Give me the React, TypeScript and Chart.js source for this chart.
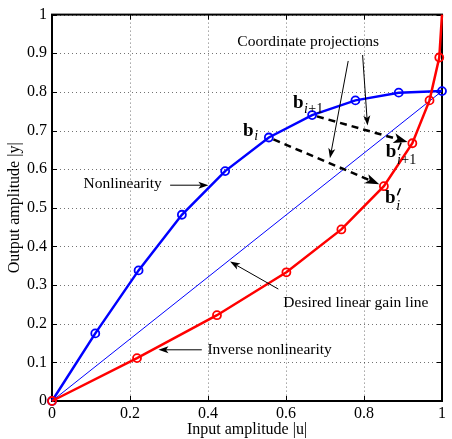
import React, { useEffect, useRef } from 'react';
import { Chart, registerables } from 'chart.js';

Chart.register(...registerables);

// ---- data ----
const nonlinX = [0, 0.111, 0.222, 0.333, 0.444, 0.556, 0.667, 0.778, 0.889, 1.0];
const nonlinY = [0, 0.175, 0.338, 0.482, 0.595, 0.682, 0.74, 0.778, 0.798, 0.802];
const inverseX = [0, 0.218, 0.423, 0.601, 0.742, 0.851, 0.924, 0.968, 0.993, 1.0];
const inverseY = [0, 0.111, 0.222, 0.333, 0.444, 0.556, 0.667, 0.778, 0.889, 1.0];
const gainLineX = [0, 1];
const gainLineY = [0, 0.802];
const xTicks = [0, 0.2, 0.4, 0.6, 0.8, 1];
const yTicks = [0, 0.1, 0.2, 0.3, 0.4, 0.5, 0.6, 0.7, 0.8, 0.9, 1];
const projectionIndices = [5, 6];

const xTitle = 'Input amplitude |u|';
const yTitle = 'Output amplitude |y|';

// annotations (data coordinates)
const textNotes = [
  { text: 'Coordinate projections', x: 0.4753, y: 0.9296, align: 'left' },
  { text: 'Nonlinearity', x: 0.2817, y: 0.5624, align: 'right' },
  { text: 'Desired linear gain line', x: 0.5931, y: 0.2531, align: 'left' },
  { text: 'Inverse nonlinearity', x: 0.3985, y: 0.1327, align: 'left' },
];
const pointerArrows = [
  { from: [0.7595, 0.88], to: [0.7127, 0.628] },
  { from: [0.7964, 0.8954], to: [0.809, 0.713] },
  { from: [0.3029, 0.5585], to: [0.401, 0.5585] },
  { from: [0.5803, 0.2897], to: [0.4566, 0.3608] },
  { from: [0.3841, 0.1325], to: [0.273, 0.1325] },
];
const mathLabels = [
  { sub: 'i', prime: false, x: 0.49, y: 0.687 },
  { sub: 'i+1', prime: false, x: 0.6177, y: 0.758 },
  { sub: 'i+1', prime: true, x: 0.856, y: 0.631 },
  { sub: 'i', prime: true, x: 0.854, y: 0.513 },
];

const SERIF = '"Liberation Serif", "DejaVu Serif", serif';

function drawHead(ctx: CanvasRenderingContext2D, x: number, y: number, ang: number, len: number, hw: number) {
  const bx = x - Math.cos(ang) * len;
  const by = y - Math.sin(ang) * len;
  const nx = -Math.sin(ang);
  const ny = Math.cos(ang);
  const mx = x - Math.cos(ang) * len * 0.75;
  const my = y - Math.sin(ang) * len * 0.75;
  ctx.beginPath();
  ctx.moveTo(x, y);
  ctx.lineTo(bx + nx * hw, by + ny * hw);
  ctx.lineTo(mx, my);
  ctx.lineTo(bx - nx * hw, by - ny * hw);
  ctx.closePath();
  ctx.fill();
}

function drawArrow(
  ctx: CanvasRenderingContext2D,
  x1: number, y1: number, x2: number, y2: number,
  opts: { width: number; len: number; hw: number; dash?: number[] }
) {
  const ang = Math.atan2(y2 - y1, x2 - x1);
  const ex = x2 - Math.cos(ang) * opts.len * 0.75;
  const ey = y2 - Math.sin(ang) * opts.len * 0.75;
  ctx.save();
  ctx.strokeStyle = '#000';
  ctx.fillStyle = '#000';
  ctx.lineWidth = opts.width;
  ctx.setLineDash(opts.dash || []);
  ctx.beginPath();
  ctx.moveTo(x1, y1);
  ctx.lineTo(ex, ey);
  ctx.stroke();
  ctx.setLineDash([]);
  drawHead(ctx, x2, y2, ang, opts.len, opts.hw);
  ctx.restore();
}

const framePlugin = {
  id: 'matlabFrame',
  beforeDatasetsDraw(chart: any) {
    const { ctx, chartArea: a, scales } = chart;
    const xs = scales.x;
    const ys = scales.y;
    ctx.save();
    // dotted grid
    ctx.strokeStyle = 'rgba(0,0,0,0.55)';
    ctx.lineWidth = 1;
    ctx.setLineDash([1, 3]);
    xTicks.forEach((v) => {
      const px = Math.round(xs.getPixelForValue(v)) + 0.5;
      ctx.beginPath();
      ctx.moveTo(px, a.top);
      ctx.lineTo(px, a.bottom);
      ctx.stroke();
    });
    yTicks.forEach((v) => {
      const py = Math.round(ys.getPixelForValue(v)) + 0.5;
      ctx.beginPath();
      ctx.moveTo(a.left, py);
      ctx.lineTo(a.right, py);
      ctx.stroke();
    });
    ctx.setLineDash([]);
    // tick marks inward
    ctx.strokeStyle = '#000';
    ctx.lineWidth = 1;
    const tl = 5;
    xTicks.forEach((v) => {
      const px = Math.round(xs.getPixelForValue(v)) + 0.5;
      ctx.beginPath();
      ctx.moveTo(px, a.bottom);
      ctx.lineTo(px, a.bottom - tl);
      ctx.moveTo(px, a.top);
      ctx.lineTo(px, a.top + tl);
      ctx.stroke();
    });
    yTicks.forEach((v) => {
      const py = Math.round(ys.getPixelForValue(v)) + 0.5;
      ctx.beginPath();
      ctx.moveTo(a.left, py);
      ctx.lineTo(a.left + tl, py);
      ctx.moveTo(a.right, py);
      ctx.lineTo(a.right - tl, py);
      ctx.stroke();
    });
    // box
    ctx.lineWidth = 2;
    ctx.strokeRect(a.left, a.top, a.right - a.left, a.bottom - a.top);
    ctx.restore();
  },
  afterDatasetsDraw(chart: any) {
    const { ctx, scales } = chart;
    const xs = scales.x;
    const ys = scales.y;
    const X = (v: number) => xs.getPixelForValue(v);
    const Y = (v: number) => ys.getPixelForValue(v);
    ctx.save();

    // dashed projection arrows
    projectionIndices.forEach((i) => {
      const x1 = X(nonlinX[i]);
      const y1 = Y(nonlinY[i]);
      const x2 = X(inverseX[i]);
      const y2 = Y(inverseY[i]);
      const ang = Math.atan2(y2 - y1, x2 - x1);
      const r = 5;
      drawArrow(
        ctx,
        x1 + Math.cos(ang) * r, y1 + Math.sin(ang) * r,
        x2 - Math.cos(ang) * r, y2 - Math.sin(ang) * r,
        { width: 2.5, len: 14, hw: 5, dash: [7, 5] }
      );
    });

    // thin pointer arrows
    pointerArrows.forEach((p) => {
      drawArrow(ctx, X(p.from[0]), Y(p.from[1]), X(p.to[0]), Y(p.to[1]), { width: 1, len: 10, hw: 3.5 });
    });

    // text notes
    ctx.fillStyle = '#000';
    ctx.font = `15.5px ${SERIF}`;
    ctx.textBaseline = 'middle';
    textNotes.forEach((t) => {
      ctx.textAlign = t.align as CanvasTextAlign;
      ctx.fillText(t.text, X(t.x), Y(t.y));
    });

    // math labels b_i etc.
    ctx.textAlign = 'left';
    ctx.textBaseline = 'alphabetic';
    mathLabels.forEach((m) => {
      const bx = X(m.x);
      const by = Y(m.y);
      ctx.font = `bold 19px ${SERIF}`;
      ctx.fillText('b', bx, by);
      const bw = ctx.measureText('b').width;
      let sx = bx + bw + 0.5;
      if (m.prime) {
        ctx.save();
        ctx.strokeStyle = '#000';
        ctx.lineWidth = 1.6;
        ctx.lineCap = 'round';
        ctx.beginPath();
        ctx.moveTo(sx + 4, by - 14);
        ctx.lineTo(sx + 1.5, by - 8);
        ctx.stroke();
        ctx.restore();
      }
      const sy = by + (m.prime ? 7 : 4.5);
      ctx.font = `italic 14px ${SERIF}`;
      ctx.fillText('i', sx, sy);
      sx += ctx.measureText('i').width + 0.5;
      if (m.sub.length > 1) {
        ctx.font = `14px ${SERIF}`;
        ctx.fillText(m.sub.slice(1), sx, sy);
      }
    });

    ctx.restore();
  },
};

export default function App() {
  const canvasRef = useRef<HTMLCanvasElement | null>(null);

  useEffect(() => {
    const canvas = canvasRef.current;
    if (!canvas) return;
    const tickFont = { family: SERIF, size: 16 };
    const redData = inverseX.map((x, i) => ({ x, y: inverseY[i] }));
    const blueData = nonlinX.map((x, i) => ({ x, y: nonlinY[i] }));
    const gainData = gainLineX.map((x, i) => ({ x, y: gainLineY[i] }));

    const chart = new Chart(canvas, {
      type: 'scatter',
      data: {
        datasets: [
          {
            data: redData,
            showLine: true,
            borderColor: '#ff0000',
            borderWidth: 2.5,
            pointRadius: redData.map((_, i) => (i === redData.length - 1 ? 0 : 4)),
            pointBorderColor: '#ff0000',
            pointBackgroundColor: 'rgba(0,0,0,0)',
            pointBorderWidth: 1.8,
            clip: false,
          } as any,
          {
            data: blueData,
            showLine: true,
            borderColor: '#0000ff',
            borderWidth: 2.5,
            pointRadius: 4,
            pointBorderColor: '#0000ff',
            pointBackgroundColor: 'rgba(0,0,0,0)',
            pointBorderWidth: 1.8,
            clip: false,
          } as any,
          {
            data: gainData,
            showLine: true,
            borderColor: '#0000ff',
            borderWidth: 1,
            pointRadius: 0,
            clip: false,
          } as any,
        ],
      },
      options: {
        animation: false,
        responsive: false,
        devicePixelRatio: 1,
        layout: { padding: { top: 13, right: 10, left: 0, bottom: 0 } },
        plugins: { legend: { display: false }, tooltip: { enabled: false } },
        scales: {
          x: {
            type: 'linear',
            min: 0,
            max: 1,
            afterBuildTicks: (s: any) => {
              s.ticks = xTicks.map((v) => ({ value: v }));
            },
            afterFit: (s: any) => {
              s.height = 38;
            },
            grid: { display: false, drawTicks: false },
            border: { display: false },
            ticks: {
              font: tickFont,
              color: '#000',
              padding: 3,
              maxRotation: 0,
              callback: (v: any) => String(v),
            },
            title: {
              display: true,
              text: xTitle,
              font: tickFont,
              color: '#000',
              padding: { top: 0, bottom: 0 },
            },
          },
          y: {
            type: 'linear',
            min: 0,
            max: 1,
            afterBuildTicks: (s: any) => {
              s.ticks = yTicks.map((v) => ({ value: v }));
            },
            afterFit: (s: any) => {
              s.width = 52;
            },
            grid: { display: false, drawTicks: false },
            border: { display: false },
            ticks: {
              font: tickFont,
              color: '#000',
              padding: 5,
              callback: (v: any) => String(v),
            },
            title: {
              display: true,
              text: yTitle,
              font: tickFont,
              color: '#000',
              padding: { top: 5, bottom: 0 },
            },
          },
        },
      } as any,
      plugins: [framePlugin],
    });
    return () => chart.destroy();
  }, []);

  return (
    <div style={{ position: 'fixed', left: 0, top: 0, width: 452, height: 439, background: '#fff' }}>
      <canvas ref={canvasRef} width={452} height={439} style={{ display: 'block' }} />
    </div>
  );
}
